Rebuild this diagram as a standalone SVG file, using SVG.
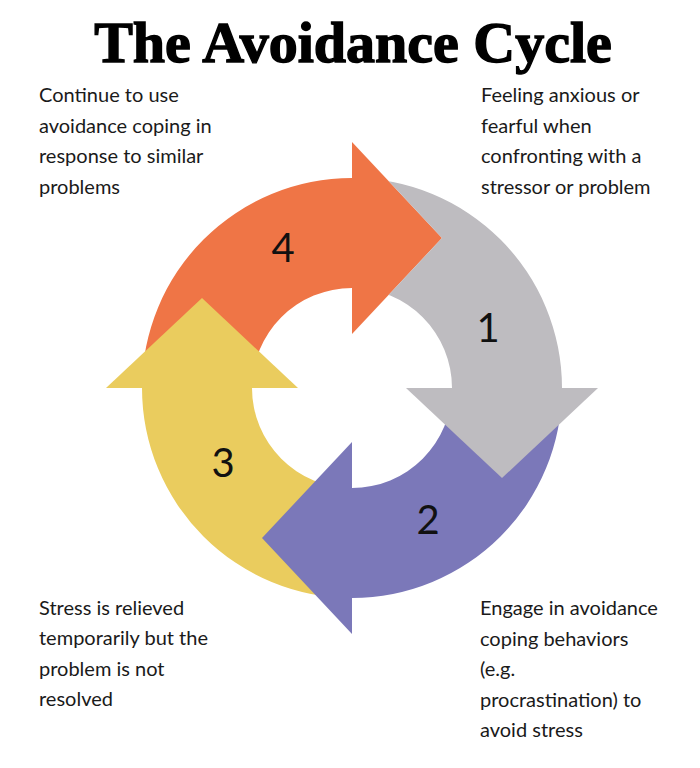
<svg xmlns="http://www.w3.org/2000/svg" width="700" height="768" viewBox="0 0 700 768">
<style>
.lbl{font-family:Lato,"Open Sans","Liberation Sans",sans-serif;font-size:20px;fill:#1a1a1a}
.num{font-family:Lato,"Open Sans","Liberation Sans",sans-serif;font-size:40px;fill:#111;text-anchor:middle}
.title{font-family:"Liberation Serif","DejaVu Serif",serif;font-weight:bold;font-size:58px;fill:#000;stroke:#000;stroke-width:1.4;text-anchor:middle}
</style>
<defs>
<clipPath id="noOrangeHead" clip-rule="evenodd">
<path clip-rule="evenodd" d="M0,0 H700 V768 H0 Z M352,142 L442,238 L352,334 Z"/>
</clipPath>
</defs>
<rect width="700" height="768" fill="#fff"/>
<text class="title" x="353" y="62">The Avoidance Cycle</text>
<g id="connectors">
<g id="step4">
<path fill="#EF7546" d="M142,388 A210,210 0 0 1 352,178 L352,288 A100,100 0 0 0 252,388 Z"/>
<path fill="#EF7546" d="M352,142 L442,238 L352,334 Z"/>
<text class="num" x="283" y="262">4</text>
</g>
<g id="step3">
<path fill="#EACC5E" d="M352,598 A210,210 0 0 1 142,388 L252,388 A100,100 0 0 0 352,488 Z"/>
<path fill="#EACC5E" d="M106,388 L298,388 L202,298 Z"/>
<text class="num" x="223" y="477">3</text>
</g>
<g id="step2">
<path fill="#7B78B9" d="M562,388 A210,210 0 0 1 352,598 L352,488 A100,100 0 0 0 452,388 Z"/>
<path fill="#7B78B9" d="M352,442 L352,634 L262,538 Z"/>
<text class="num" x="428" y="534">2</text>
</g>
<g id="step1">
<path fill="#BEBCC0" clip-path="url(#noOrangeHead)" d="M352,178 A210,210 0 0 1 562,388 L452,388 A100,100 0 0 0 352,288 Z"/>
<path fill="#BEBCC0" d="M406,388 L598,388 L502,478 Z"/>
<text class="num" x="488" y="342">1</text>
</g>
</g>
<g id="node1">
<text class="lbl" x="481" y="102">Feeling anxious or</text>
<text class="lbl" x="481" y="132.5">fearful when</text>
<text class="lbl" x="481" y="163">confronting with a</text>
<text class="lbl" x="481" y="193.5">stressor or problem</text>
</g>
<g id="node2">
<text class="lbl" x="480" y="615">Engage in avoidance</text>
<text class="lbl" x="480" y="645.5">coping behaviors</text>
<text class="lbl" x="480" y="676">(e.g.</text>
<text class="lbl" x="480" y="706.5">procrastination) to</text>
<text class="lbl" x="480" y="737">avoid stress</text>
</g>
<g id="node3">
<text class="lbl" x="39" y="614.5">Stress is relieved</text>
<text class="lbl" x="39" y="645">temporarily but the</text>
<text class="lbl" x="39" y="675.5">problem is not</text>
<text class="lbl" x="39" y="706">resolved</text>
</g>
<g id="node4">
<text class="lbl" x="39" y="102">Continue to use</text>
<text class="lbl" x="39" y="132.5">avoidance coping in</text>
<text class="lbl" x="39" y="163">response to similar</text>
<text class="lbl" x="39" y="193.5">problems</text>
</g>
</svg>
